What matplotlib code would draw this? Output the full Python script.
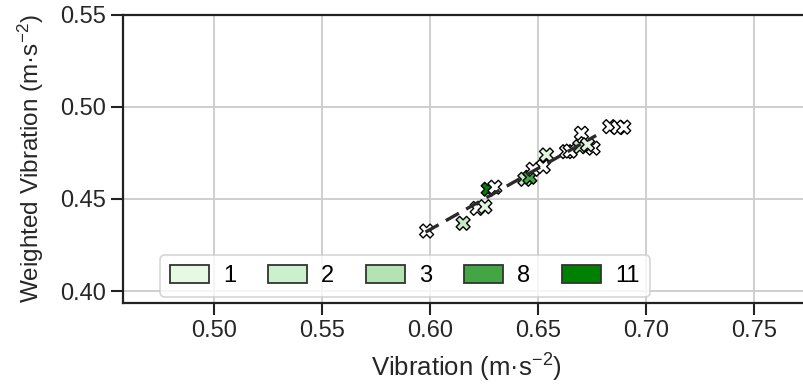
import numpy as np
import matplotlib.pyplot as plt
from matplotlib.patches import Patch

plt.rcParams['font.family'] = ['Liberation Sans', 'DejaVu Sans']
plt.rcParams['mathtext.default'] = 'regular'

# data
vib = [0.5985, 0.6154, 0.6219, 0.6255, 0.6270, 0.6301, 0.6440, 0.6463, 0.6478,
       0.6525, 0.6540, 0.6633, 0.6702, 0.6694, 0.6756, 0.6833, 0.6870, 0.6898,
       0.6650, 0.6730]
wvib = [0.4326, 0.4368, 0.4449, 0.4458, 0.4553, 0.4564, 0.4607, 0.4618, 0.4661,
        0.4676, 0.4739, 0.4757, 0.4857, 0.4784, 0.4776, 0.4893, 0.4888, 0.4890,
        0.4760, 0.4795]
group = [1, 3, 1, 2, 11, 1, 3, 8, 1,
         1, 2, 2, 1, 3, 1, 1, 1, 1,
         1, 2]
groups = [1, 2, 3, 8, 11]
colors = {1: '#e5f9e3', 2: '#cdf0cc', 3: '#b4e3b3', 8: '#44a544', 11: '#008000'}
point_colors = {1: '#ffffff', 2: '#e0f5de', 3: '#c6eac4', 8: '#44a544', 11: '#008000'}

fit_x = [0.598, 0.677]
fit_y = [0.432, 0.4845]

fig = plt.figure(figsize=(8.04, 3.91), dpi=100)
ax = fig.add_axes([0.153, 0.225, 0.853, 0.737])

ax.grid(True, color='#cccccc', linewidth=1.3)
ax.set_axisbelow(True)

ax.scatter(vib, wvib, c=[point_colors[g] for g in group], marker='X', s=100,
           edgecolors='black', linewidths=1.0, zorder=3)
ax.plot(fit_x, fit_y, linestyle=(0, (4.5, 2.5)), color='#2a2a2a', linewidth=2.4, zorder=4)

ax.set_xlim(0.4579, 0.7755)
ax.set_ylim(0.3935, 0.55)
ax.set_xticks([0.50, 0.55, 0.60, 0.65, 0.70, 0.75])
ax.set_yticks([0.40, 0.45, 0.50, 0.55])

for s in ax.spines.values():
    s.set_linewidth(1.6)
    s.set_color('#222222')
ax.tick_params(direction='out', length=8.5, width=1.5, color='#222222',
               labelsize=17, labelcolor='#262626', pad=4)

ax.set_xlabel('Vibration (m·s$^{-2}$)', fontsize=18.5, color='#262626', labelpad=7)
ax.set_ylabel('Weighted Vibration (m·s$^{-2}$)', fontsize=17.5, color='#262626', labelpad=10)

handles = [Patch(facecolor=colors[g], edgecolor='#333333', linewidth=1.3, label=str(g))
           for g in groups]
leg = fig.legend(handles=handles, ncol=5, loc='lower left',
                 bbox_to_anchor=(160 / 804, (391 - 297) / 391), borderaxespad=0,
                 fontsize=17, frameon=True, handlelength=1.65, handleheight=0.76,
                 columnspacing=1.35, handletextpad=0.6, borderpad=0.42)
leg.get_frame().set_edgecolor('#cccccc')
leg.get_frame().set_linewidth(1.2)

fig.savefig('out.png', dpi=100)
